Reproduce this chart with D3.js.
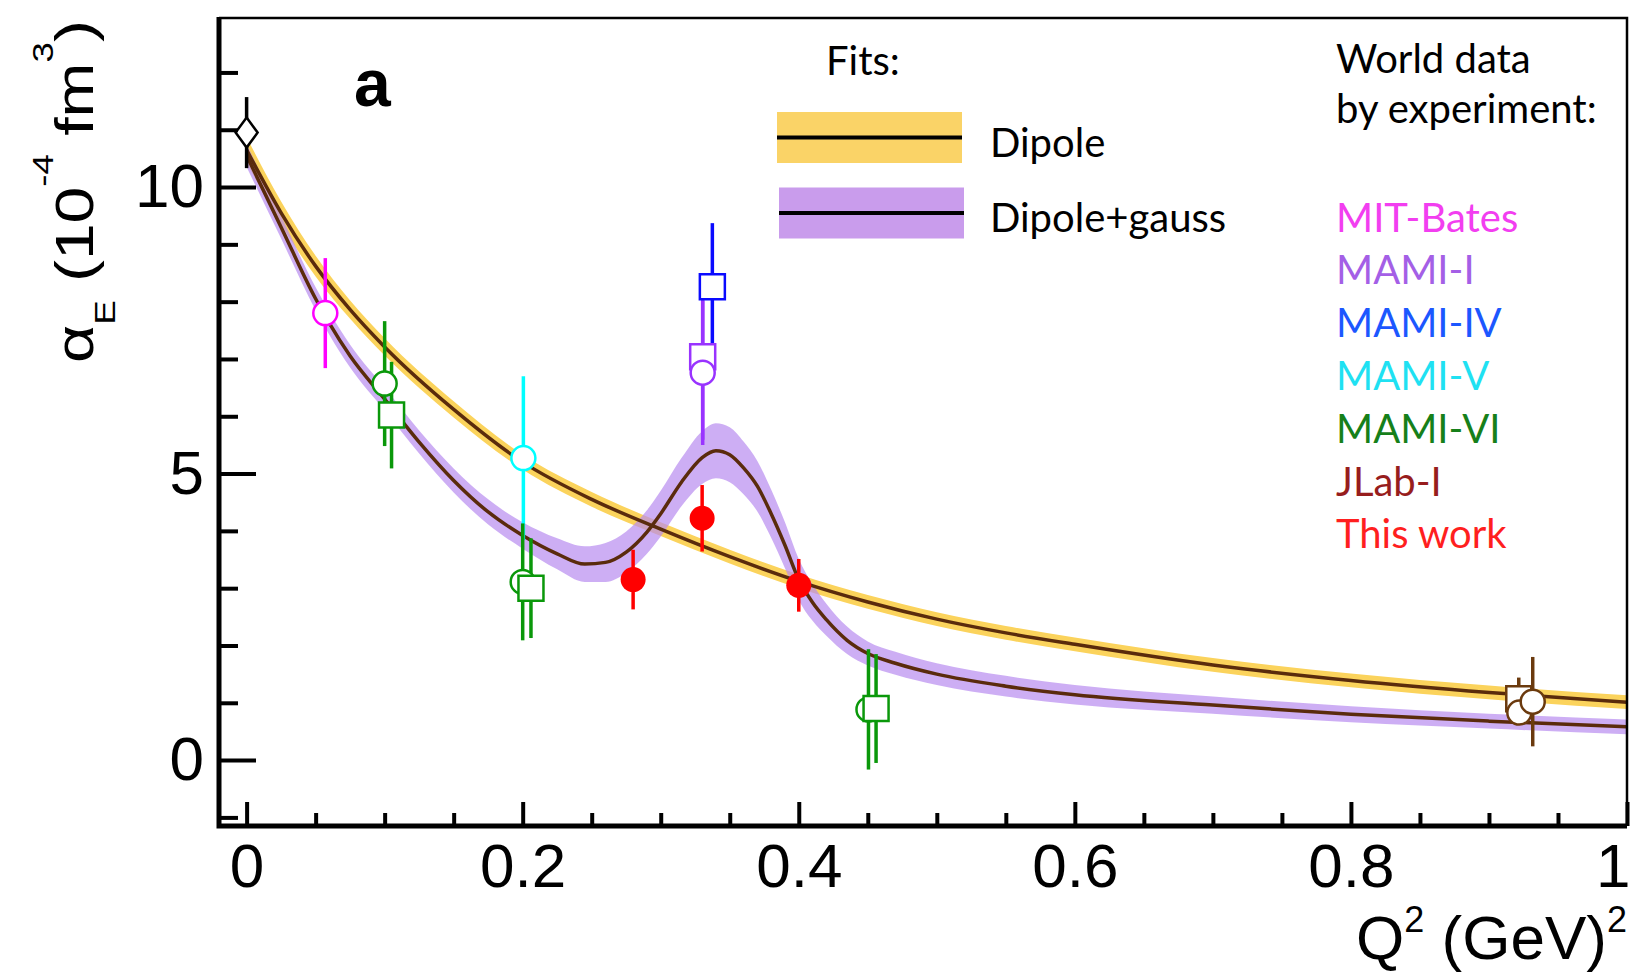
<!DOCTYPE html>
<html lang="en">
<head>
<meta charset="UTF-8">
<title>alpha_E vs Q2</title>
<script src="https://d3js.org/d3.v7.min.js"></script>
<style>
  body { margin: 0; background: #fff; }
  .legenda text { font-family: Lato, "Open Sans", sans-serif; font-size: 40px; }
</style>
</head>
<body>
<div id="chart"></div>
<script>
"use strict"

// fit curves
var qDipole   = [0, 0.025, 0.05, 0.075, 0.1, 0.15, 0.2, 0.25, 0.3, 0.35, 0.4, 0.45, 0.5, 0.55, 0.6, 0.7, 0.8, 0.9, 1.0];
var dipole    = [10.65, 9.55, 8.62, 7.86, 7.21, 6.12, 5.2, 4.55, 4.03, 3.55, 3.12, 2.76, 2.46, 2.22, 2.02, 1.66, 1.39, 1.18, 1.01];
var dipoleErr = [0.22, 0.2, 0.18, 0.16, 0.15, 0.14, 0.13, 0.13, 0.12, 0.12, 0.12, 0.12, 0.12, 0.12, 0.12, 0.12, 0.12, 0.12, 0.12];

var qGauss   = [0, 0.025, 0.05, 0.06, 0.075, 0.1, 0.125, 0.15, 0.175, 0.2, 0.225, 0.245, 0.26, 0.275, 0.29, 0.3, 0.315, 0.33, 0.34, 0.35,
                0.36, 0.37, 0.38, 0.39, 0.4, 0.41, 0.42, 0.435, 0.45, 0.47, 0.5, 0.55, 0.6, 0.7, 0.8, 0.9, 1.0];
var gauss    = [10.55, 9.3, 8.05, 7.62, 7.05, 6.3, 5.55, 4.88, 4.33, 3.92, 3.6, 3.42, 3.45, 3.63, 3.98, 4.3, 4.85, 5.28, 5.4, 5.33,
                5.1, 4.78, 4.3, 3.75, 3.15, 2.75, 2.45, 2.09, 1.86, 1.69, 1.5, 1.29, 1.14, 0.96, 0.8, 0.68, 0.58];
var gaussErr = [0.2, 0.2, 0.2, 0.2, 0.2, 0.2, 0.2, 0.21, 0.22, 0.23, 0.27, 0.31, 0.34, 0.36, 0.38, 0.4, 0.42, 0.46, 0.48, 0.48,
                0.46, 0.44, 0.42, 0.4, 0.36, 0.32, 0.28, 0.24, 0.21, 0.2, 0.19, 0.18, 0.17, 0.15, 0.14, 0.13, 0.13];

// world data points
var ptExp   = ["RCS", "MIT-Bates", "MAMI-VI", "MAMI-VI", "MAMI-V", "MAMI-VI", "MAMI-VI", "This work", "This work", "This work",
               "MAMI-I", "MAMI-I", "MAMI-IV", "MAMI-VI", "MAMI-VI", "JLab-I", "JLab-I", "JLab-I"];
var ptShape = ["diamond", "circle", "circle", "square", "circle", "circle", "square", "dot", "dot", "dot",
               "square", "circle", "square", "circle", "square", "square", "circle", "circle"];
var ptQ     = [0, 0.057, 0.100, 0.105, 0.2005, 0.200, 0.206, 0.280, 0.330, 0.400,
               0.3304, 0.3304, 0.3374, 0.4505, 0.456, 0.9216, 0.922, 0.9317];
var ptAlpha = [10.95, 7.80, 6.57, 6.02, 5.27, 3.11, 3.00, 3.15, 4.22, 3.05,
               7.04, 6.76, 8.26, 0.885, 0.90, 1.07, 0.83, 1.02];
var ptErr   = [0.62, 0.96, 1.09, 0.93, 1.43, 1.02, 0.87, 0.52, 0.58, 0.46,
               1.45, 1.26, 1.11, 1.05, 0.95, 0.37, 0.2, 0.78];

var experiments = ["MIT-Bates", "MAMI-I", "MAMI-IV", "MAMI-V", "MAMI-VI", "JLab-I", "This work"];
var expText     = ["#f23ef0", "#a45fe6", "#1c57ff", "#1fe1f2", "#16801a", "#971d1d", "#ff1f1f"];
var cores = {"RCS": "#000000", "MIT-Bates": "#ff00ff", "MAMI-I": "#9933ff", "MAMI-IV": "#0a0aff",
             "MAMI-V": "#00ffff", "MAMI-VI": "#0a980a", "JLab-I": "#6b3a0e", "This work": "#ff0000"};

var xMajor = [0, 0.2, 0.4, 0.6, 0.8, 1];
var yMajor = [0, 5, 10];

var W = 1630, H = 975;
var svg = d3.select('#chart').append('svg')
    .attr('width', W).attr('height', H)
    .style('display', 'block');

var x = d3.scaleLinear().domain([-0.02, 1.0]).range([219, 1627]);
var y = d3.scaleLinear().domain([-1.15, 12.95]).range([826, 18]);

svg.append('clipPath').attr('id', 'plotarea')
  .append('rect')
    .attr('x', x.range()[0]).attr('y', y.range()[1])
    .attr('width', x.range()[1] - x.range()[0])
    .attr('height', y.range()[0] - y.range()[1]);

var plot = svg.append('g').attr('clip-path', 'url(#plotarea)');

var dipData = qDipole.map((q, i) => ({q: q, v: dipole[i], e: dipoleErr[i]}));
var gauData = qGauss.map((q, i) => ({q: q, v: gauss[i], e: gaussErr[i]}));

var banda = d3.area()
    .x(d => x(d.q))
    .y0(d => y(d.v - d.e))
    .y1(d => y(d.v + d.e))
    .curve(d3.curveMonotoneX);
var linha = d3.line()
    .x(d => x(d.q))
    .y(d => y(d.v))
    .curve(d3.curveMonotoneX);

plot.append('path').datum(dipData).attr('d', banda).attr('fill', '#fbd35c');
plot.append('path').datum(gauData).attr('d', banda).attr('fill', '#b88cf0').attr('fill-opacity', 0.7);
plot.append('path').datum(dipData).attr('d', linha)
    .attr('fill', 'none').attr('stroke', '#5a2b0c').attr('stroke-width', 3.5);
plot.append('path').datum(gauData).attr('d', linha)
    .attr('fill', 'none').attr('stroke', '#5a2b0c').attr('stroke-width', 3.5);

// points
var pontos = ptQ.map((q, i) => ({q: q, a: ptAlpha[i], e: ptErr[i], exp: ptExp[i], shape: ptShape[i]}));

plot.selectAll('line.erro')
  .data(pontos)
  .enter()
  .append('line')
    .attr('class', 'erro')
    .attr('x1', d => x(d.q)).attr('x2', d => x(d.q))
    .attr('y1', d => y(d.a + d.e)).attr('y2', d => y(d.a - d.e))
    .attr('stroke', d => cores[d.exp])
    .attr('stroke-width', 3.5);

var simbolo = function(d) {
  var cx = x(d.q), cy = y(d.a);
  if (d.shape == "square") return 'M' + (cx - 12.5) + ',' + (cy - 12.5) + 'h25v25h-25z';
  if (d.shape == "diamond") return 'M' + cx + ',' + (cy - 15) + 'l11,15l-11,15l-11,-15z';
  var r = d.shape == "dot" ? 12.5 : 12;
  return 'M' + (cx - r) + ',' + cy + 'a' + r + ',' + r + ' 0 1,0 ' + (2 * r) + ',0a' + r + ',' + r + ' 0 1,0 ' + (-2 * r) + ',0z';
};

plot.selectAll('path.ponto')
  .data(pontos)
  .enter()
  .append('path')
    .attr('class', 'ponto')
    .attr('d', simbolo)
    .attr('fill', d => d.shape == "dot" ? cores[d.exp] : '#fff')
    .attr('stroke', d => cores[d.exp])
    .attr('stroke-width', d => d.shape == "dot" ? 0 : 2.5);

// axes
var fonteEixo = '"Liberation Sans", Arial, Helvetica, sans-serif';

var gx = svg.append('g').attr('transform', 'translate(0,' + y.range()[0] + ')');
gx.call(d3.axisBottom(x).tickValues(xMajor).tickSize(-24).tickSizeOuter(0).tickPadding(17).tickFormat(d => String(d)));
gx.append('g').call(d3.axisBottom(x)
    .tickValues(d3.range(1, 20).map(k => k * 0.05).filter(v => Math.abs(v * 5 - Math.round(v * 5)) > 1e-6))
    .tickSize(-13).tickSizeOuter(0).tickFormat(''));

var gy = svg.append('g').attr('transform', 'translate(' + x.range()[0] + ',0)');
gy.call(d3.axisLeft(y).tickValues(yMajor).tickSize(-37).tickSizeOuter(0).tickPadding(15));
gy.append('g').call(d3.axisLeft(y)
    .tickValues([-1, 1, 2, 3, 4, 6, 7, 8, 9, 11, 12])
    .tickSize(-19).tickSizeOuter(0).tickFormat(''));

svg.selectAll('.domain').remove();
svg.selectAll('.tick line').attr('stroke', '#000').attr('stroke-width', 4);
gx.selectAll('text').attr('font-size', 62).attr('font-family', fonteEixo).attr('fill', '#000');
gy.selectAll('text').attr('font-size', 62).attr('font-family', fonteEixo).attr('fill', '#000');
// the last label sits on the right edge: keep it inside the picture
gx.selectAll('.tick text').filter(d => d == 1).attr('text-anchor', 'end').attr('x', 3);

// frame
svg.append('path')
    .attr('d', 'M' + x.range()[0] + ',' + y.range()[1] + 'H' + x.range()[1] + 'V' + y.range()[0])
    .attr('fill', 'none').attr('stroke', '#000').attr('stroke-width', 2.5);
svg.append('path')
    .attr('d', 'M' + x.range()[0] + ',' + (y.range()[1] - 1) + 'V' + y.range()[0] + 'H' + x.range()[1])
    .attr('fill', 'none').attr('stroke', '#000').attr('stroke-width', 5);

// axis titles
var tituloX = svg.append('text')
    .attr('font-family', fonteEixo).attr('font-size', 62)
    .attr('text-anchor', 'end')
    .attr('x', 1627).attr('y', 959);
tituloX.append('tspan').text('Q');
tituloX.append('tspan').attr('font-size', 36).attr('dy', -27).text('2');
tituloX.append('tspan').attr('dy', 27).text(' (GeV)');
tituloX.append('tspan').attr('font-size', 36).attr('dy', -27).text('2');

var gTitY = svg.append('g');
var tituloY = gTitY.append('text')
    .attr('font-family', fonteEixo).attr('font-size', 54);
tituloY.append('tspan').text('α');
tituloY.append('tspan').attr('font-size', 30).attr('dy', 22).text('E');
tituloY.append('tspan').attr('dy', -22).text(' (10');
tituloY.append('tspan').attr('font-size', 30).attr('dy', -40).text('-4');
tituloY.append('tspan').attr('dy', 40).text(' fm');
tituloY.append('tspan').attr('font-size', 30).attr('dy', -40).text('3');
tituloY.append('tspan').attr('dy', 40).text(')');
var kY = 343 / tituloY.node().getComputedTextLength();
gTitY.attr('transform', 'translate(93,363) rotate(-90) scale(' + kY + ',1)');

svg.append('text')
    .attr('font-family', fonteEixo).attr('font-weight', 'bold').attr('font-size', 66)
    .attr('x', 354).attr('y', 106)
    .text('a');

// legend
var leg = svg.append('g').attr('class', 'legenda');
leg.append('text').attr('x', 826).attr('y', 75).text('Fits:');

var fitNomes = ["Dipole", "Dipole+gauss"];
var fitCores = ["#fad367", "#c99cec"];
var fitY = [137.5, 213];
fitNomes.forEach(function(nome, i) {
  leg.append('rect')
      .attr('x', 777 + i * 2).attr('y', fitY[i] - 25.5)
      .attr('width', 185).attr('height', 51)
      .attr('fill', fitCores[i]);
  leg.append('line')
      .attr('x1', 777 + i * 2).attr('x2', 962 + i * 2)
      .attr('y1', fitY[i]).attr('y2', fitY[i])
      .attr('stroke', '#000').attr('stroke-width', 4);
  leg.append('text').attr('x', 990).attr('y', fitY[i] + 19).text(nome);
});

leg.append('text').attr('x', 1336).attr('y', 73).text('World data');
leg.append('text').attr('x', 1336).attr('y', 123).text('by experiment:');

leg.selectAll('text.exp')
  .data(experiments)
  .enter()
  .append('text')
    .attr('class', 'exp')
    .attr('x', 1336)
    .attr('y', (d, i) => 231.5 + i * 52.8)
    .attr('fill', (d, i) => expText[i])
    .text(d => d);
</script>
</body>
</html>
